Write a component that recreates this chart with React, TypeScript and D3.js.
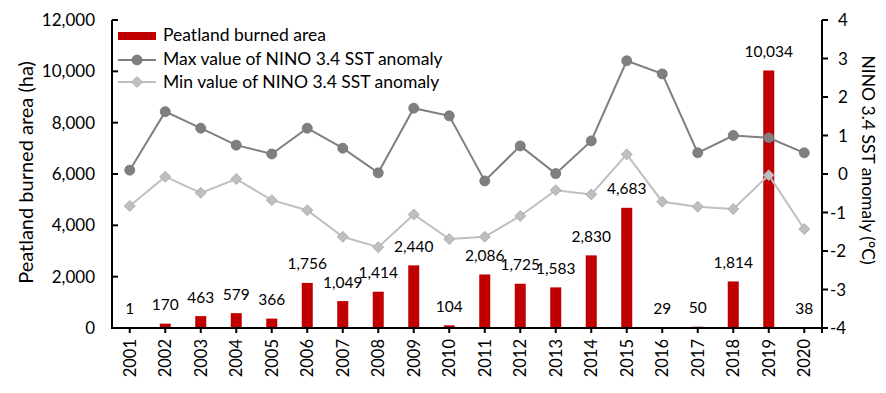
import React from 'react';
import * as d3 from 'd3';

const years = ['2001', '2002', '2003', '2004', '2005', '2006', '2007', '2008', '2009', '2010',
  '2011', '2012', '2013', '2014', '2015', '2016', '2017', '2018', '2019', '2020'];
const burnedArea = [1, 170, 463, 579, 366, 1756, 1049, 1414, 2440, 104,
  2086, 1725, 1583, 2830, 4683, 29, 50, 1814, 10034, 38];
const maxAnomaly = [0.10, 1.62, 1.19, 0.75, 0.52, 1.19, 0.67, 0.03, 1.71, 1.51,
  -0.18, 0.73, 0.01, 0.86, 2.94, 2.60, 0.55, 1.00, 0.94, 0.55];
const minAnomaly = [-0.83, -0.07, -0.49, -0.13, -0.68, -0.94, -1.63, -1.90, -1.05, -1.69,
  -1.63, -1.09, -0.42, -0.53, 0.51, -0.72, -0.85, -0.91, -0.03, -1.43];
const leftTicks = [0, 2000, 4000, 6000, 8000, 10000, 12000];
const rightTicks = [-4, -3, -2, -1, 0, 1, 2, 3, 4];
const legendLabels = ['Peatland burned area', 'Max value of NINO 3.4 SST anomaly', 'Min value of NINO 3.4 SST anomaly'];

const W = 886;
const H = 393;
const plot = { left: 112, right: 822, top: 20, bottom: 328 };
const font = 'Lato, "Open Sans", sans-serif';
const barColor = '#c00000';
const maxColor = '#7f7f7f';
const minColor = '#bfbfbf';

const x = d3.scaleBand<string>().domain(years).range([plot.left, plot.right]);
const yLeft = d3.scaleLinear().domain([0, 12000]).range([plot.bottom, plot.top]);
const yRight = d3.scaleLinear().domain([-4, 4]).range([plot.bottom, plot.top]);
const fmt = d3.format(',');

const cx = (y: string) => (x(y) ?? 0) + x.bandwidth() / 2;

const lineGen = d3.line<number>()
  .x((_, i) => cx(years[i]))
  .y(d => yRight(d));

const diamond = (px: number, py: number, r: number) =>
  `M${px},${py - r}L${px + r},${py}L${px},${py + r}L${px - r},${py}Z`;

export default function App() {
  const barW = x.bandwidth() * 0.31;

  return (
    <svg width={W} height={H} style={{ position: 'absolute', left: 0, top: 0, background: '#fff' }}
      fontFamily={font}>
      {/* bars */}
      {burnedArea.map((v, i) => (
        <rect key={years[i]} x={cx(years[i]) - barW / 2} y={yLeft(v)} width={barW}
          height={plot.bottom - yLeft(v)} fill={barColor} />
      ))}

      {/* min line */}
      <path d={lineGen(minAnomaly) ?? ''} fill="none" stroke={minColor} strokeWidth={2} />
      {minAnomaly.map((v, i) => (
        <path key={years[i]} d={diamond(cx(years[i]), yRight(v), 5.5)} fill={minColor} stroke="#a6a6a6" strokeWidth={0.8} />
      ))}

      {/* max line */}
      <path d={lineGen(maxAnomaly) ?? ''} fill="none" stroke={maxColor} strokeWidth={2} />
      {maxAnomaly.map((v, i) => (
        <circle key={years[i]} cx={cx(years[i])} cy={yRight(v)} r={5} fill={maxColor} stroke="#737373" strokeWidth={0.8} />
      ))}

      {/* bar labels */}
      {burnedArea.map((v, i) => (
        <text key={years[i]} x={cx(years[i])} y={yLeft(v) - 13.5} textAnchor="middle" fontSize={15.5} fill="#000">
          {fmt(v)}
        </text>
      ))}

      {/* left axis */}
      <line x1={plot.left} x2={plot.left} y1={plot.top} y2={plot.bottom} stroke="#000" strokeWidth={2} />
      {leftTicks.map(t => (
        <g key={t}>
          <line x1={plot.left} x2={plot.left + 6} y1={yLeft(t)} y2={yLeft(t)} stroke="#000" strokeWidth={2} />
          <text x={plot.left - 17} y={yLeft(t)} dy="0.36em" textAnchor="end" fontSize={17} fill="#000">{fmt(t)}</text>
        </g>
      ))}
      <text transform={`translate(33,172.5) rotate(-90)`} textAnchor="middle" fontSize={20} fill="#000">
        Peatland burned area (ha)
      </text>

      {/* right axis */}
      <line x1={plot.right} x2={plot.right} y1={plot.top} y2={plot.bottom + 5} stroke="#000" strokeWidth={2} />
      {rightTicks.map(t => (
        <g key={t}>
          <line x1={plot.right} x2={plot.right + 6} y1={yRight(t)} y2={yRight(t)} stroke="#000" strokeWidth={2} />
          <text x={t < 0 ? plot.right + 8 : plot.right + 16} y={yRight(t)} dy="0.36em" textAnchor="start" fontSize={17} fill="#000">
            {t < 0 ? `-${Math.abs(t)}` : t}
          </text>
        </g>
      ))}
      <text transform={`translate(862,160) rotate(90)`} textAnchor="middle" fontSize={17.5} fill="#000">
        NINO 3.4 SST anomaly (°C)
      </text>

      {/* x axis */}
      <line x1={plot.left - 1} x2={plot.right + 1} y1={plot.bottom} y2={plot.bottom} stroke="#000" strokeWidth={2} />
      {years.map(y => (
        <g key={y}>
          <line x1={cx(y)} x2={cx(y)} y1={plot.bottom} y2={plot.bottom + 5} stroke="#000" strokeWidth={2} />
          <text transform={`translate(${cx(y)},${plot.bottom + 11}) rotate(-90)`} dy="0.36em" textAnchor="end" fontSize={16.5} fill="#000">
            {y}
          </text>
        </g>
      ))}

      {/* legend */}
      <rect x={118} y={32} width={38} height={8} fill={barColor} />
      <line x1={118} x2={156} y1={60} y2={60} stroke={maxColor} strokeWidth={2} />
      <circle cx={137} cy={60} r={5} fill={maxColor} stroke="#737373" strokeWidth={0.8} />
      <line x1={118} x2={156} y1={82} y2={82} stroke={minColor} strokeWidth={2} />
      <path d={diamond(137, 82, 5.5)} fill={minColor} stroke="#a6a6a6" strokeWidth={0.8} />
      {legendLabels.map((l, i) => (
        <text key={l} x={163} y={[40.7, 65, 87.7][i]} fontSize={17.5} fill="#000">{l}</text>
      ))}
    </svg>
  );
}
